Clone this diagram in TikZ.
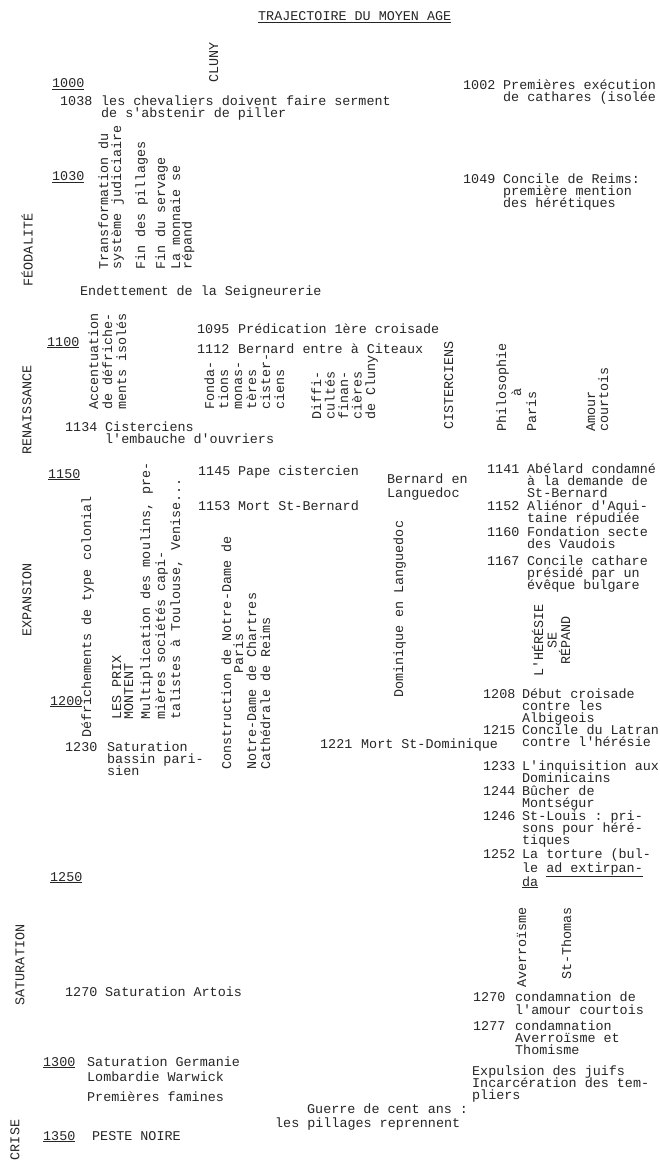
\documentclass[tikz,border=0pt]{standalone}
\usepackage{fontspec}
\setmonofont{Liberation Mono}
\newcommand\mlines[2][12pt]{\vtop{\baselineskip=#1\relax\lineskiplimit=-100pt\lineskip=0pt\halign{##\hfil\cr#2\crcr}}}
\newcommand\mcent[2][12pt]{\vtop{\baselineskip=#1\relax\lineskiplimit=-100pt\lineskip=0pt\halign{\hfil##\hfil\cr#2\crcr}}}
\begin{document}
\begin{tikzpicture}[x=1pt,y=-1pt]
\tikzset{
  tw/.style={font=\ttfamily\fontsize{13.4}{12}\selectfont, inner sep=0pt, anchor=base west, text=black!85},
  vt/.style={tw, rotate=90},
  lab/.style={font=\ttfamily\fontsize{13.4}{12}\selectfont, inner sep=0pt, rotate=90, anchor=center, text=black!85},
}
\useasboundingbox[fill=white] (0,0) rectangle (660,1161);
% title
\node[tw] (title) at (258,21) {\underline{TRAJECTOIRE DU MOYEN AGE}};
\node[vt] (cluny) at (218,83) {CLUNY};
% period labels
\node[lab] (l1) at (27,250) {FÉODALITÉ};
\node[lab] (l2) at (27,410) {RENAISSANCE};
\node[lab] (l3) at (27,600) {EXPANSION};
\node[lab] (l4) at (20,965) {SATURATION};
\node[lab] (l5) at (15,1140) {CRISE};
% years
\node[tw] (y1000) at (52,88) {\underline{1000}};
\node[tw] (y1030) at (52,181) {\underline{1030}};
\node[tw] (y1100) at (47,346) {\underline{1100}};
\node[tw] (y1150) at (48,478) {\underline{1150}};
\node[tw] (y1200) at (50,705) {\underline{1200}};
\node[tw] (y1250) at (50,881) {\underline{1250}};
\node[tw] (y1300) at (43,1066) {\underline{1300}};
\node[tw] (y1350) at (43,1140) {\underline{1350}};
% left events
\node[tw] (d1038) at (60,106) {1038};
\node[tw] (t1038) at (101,106) {\mlines{les chevaliers doivent faire serment\cr de s'abstenir de piller}};
\node[vt] (transf) at (108,270) {\mlines[13pt]{Transformation du\cr système judiciaire}};
\node[vt] (pill) at (145,270) {Fin des pillages};
\node[vt] (serv) at (165,270) {Fin du servage};
\node[vt] (monn) at (180,270) {\mlines[11.5pt]{La monnaie se\cr répand}};
\node[tw] (endet) at (80,295) {Endettement de la Seigneurerie};
\node[vt] (accent) at (98,410) {\mlines[14pt]{Accentuation\cr de défriche-\cr ments isolés}};
\node[tw] (d1095) at (197,333) {1095};
\node[tw] (t1095) at (238,333) {Prédication 1ère croisade};
\node[tw] (d1112) at (197,353) {1112};
\node[tw] (t1112) at (238,353) {Bernard entre à Citeaux};
\node[vt] (fond) at (214,410) {\mlines[14pt]{Fonda-\cr tions\cr monas-\cr tères\cr cister-\cr ciens}};
\node[vt] (diff) at (321,420) {\mlines[13.5pt]{Diffi-\cr cultés\cr finan-\cr cières\cr de Cluny}};
\node[vt] (cist) at (453,430) {CISTERCIENS};
\node[vt] (philo) at (506,432) {Philosophie};
\node[vt] (a) at (521,397) {à};
\node[vt] (paris) at (536,432) {Paris};
\node[vt] (amour) at (595,432) {\mlines[13pt]{Amour\cr courtois}};
\node[tw] (d1134) at (65,431) {1134};
\node[tw] (t1134) at (105,431) {\mlines{Cisterciens\cr l'embauche d'ouvriers}};
\node[vt] (defr) at (91,738) {Défrichements de type colonial};
\node[vt] (prix) at (121,720) {\mlines{LES PRIX\cr MONTENT}};
\node[vt] (mult) at (150,720) {\mlines[15pt]{Multiplication des moulins, pre-\cr mières sociétés capi-\cr talistes à Toulouse, Venise...}};
\node[vt] (constr) at (231,770) {\mcent{Construction de Notre-Dame de\cr Paris}};
\node[vt] (nd) at (256,770) {\mlines[14pt]{Notre-Dame de Chartres\cr Cathédrale de Reims}};
\node[tw] (d1145) at (198,475) {1145};
\node[tw] (t1145) at (238,475) {Pape cistercien};
\node[tw] (d1153) at (198,510) {1153};
\node[tw] (t1153) at (238,510) {Mort St-Bernard};
\node[tw] (bern) at (387,483) {\mlines[14pt]{Bernard en\cr Languedoc}};
\node[vt] (domi) at (403,698) {Dominique en Languedoc};
\node[tw] (d1230) at (65,751) {1230};
\node[tw] (t1230) at (107,751) {\mlines{Saturation\cr bassin pari-\cr sien}};
\node[tw] (d1221) at (320,748) {1221};
\node[tw] (t1221) at (361,748) {Mort St-Dominique};
\node[tw] (d1270l) at (65,996) {1270};
\node[tw] (t1270l) at (105,996) {Saturation Artois};
\node[tw] (t1300) at (87,1066) {\mlines[15pt]{Saturation Germanie\cr Lombardie Warwick}};
\node[tw] (famines) at (87,1101) {Premières famines};
\node[tw] (peste) at (92,1140) {PESTE NOIRE};
\node[tw] (guerre1) at (307,1113) {Guerre de cent ans :};
\node[tw] (guerre2) at (275,1127) {les pillages reprennent};
% right column
\node[tw] (d1002) at (463,90) {1002};
\node[tw] (t1002) at (503,90) {\mlines{Premières exécution\cr de cathares (isolée}};
\node[tw] (d1049) at (463,184) {1049};
\node[tw] (t1049) at (503,184) {\mlines{Concile de Reims:\cr première mention\cr des hérétiques}};
\node[tw] (d1141) at (487,473) {1141};
\node[tw] (t1141) at (527,473) {\mlines{Abélard condamné\cr à la demande de\cr St-Bernard}};
\node[tw] (d1152) at (487,510) {1152};
\node[tw] (t1152) at (527,510) {\mlines{Aliénor d'Aqui-\cr taine répudiée}};
\node[tw] (d1160) at (487,536) {1160};
\node[tw] (t1160) at (527,536) {\mlines{Fondation secte\cr des Vaudois}};
\node[tw] (d1167) at (487,565) {1167};
\node[tw] (t1167) at (527,565) {\mlines{Concile cathare\cr présidé par un\cr évêque bulgare}};
\node[vt] (heres) at (543,677) {\mcent[13.5pt]{L'HÉRÉSIE\cr SE\cr RÉPAND}};
\node[tw] (d1208) at (483,698) {1208};
\node[tw] (t1208) at (522,698) {\mlines{Début croisade\cr contre les\cr Albigeois}};
\node[tw] (d1215) at (483,734) {1215};
\node[tw] (t1215) at (522,734) {\mlines{Concile du Latran\cr contre l'hérésie}};
\node[tw] (d1233) at (483,770) {1233};
\node[tw] (t1233) at (522,770) {\mlines{L'inquisition aux\cr Dominicains}};
\node[tw] (d1244) at (483,795) {1244};
\node[tw] (t1244) at (522,795) {\mlines{Bûcher de\cr Montségur}};
\node[tw] (d1246) at (483,820) {1246};
\node[tw] (t1246) at (522,820) {\mlines{St-Louis : pri-\cr sons pour héré-\cr tiques}};
\node[tw] (d1252) at (483,858) {1252};
\node[tw] (t1252) at (522,858) {\mlines[14pt]{La torture (bul-\cr le \underline{ad extirpan-}\cr \underline{da}}};
\node[vt] (averr) at (526,988) {Averroïsme};
\node[vt] (thomas) at (571,980) {St-Thomas};
\node[tw] (d1270r) at (473,1001) {1270};
\node[tw] (t1270r) at (515,1001) {\mlines[13.5pt]{condamnation de\cr l'amour courtois}};
\node[tw] (d1277) at (473,1030) {1277};
\node[tw] (t1277) at (515,1030) {\mlines{condamnation\cr Averroïsme et\cr Thomisme}};
\node[tw] (expul) at (472,1075) {\mlines{Expulsion des juifs\cr Incarcération des tem-\cr pliers}};
\end{tikzpicture}
\end{document}
